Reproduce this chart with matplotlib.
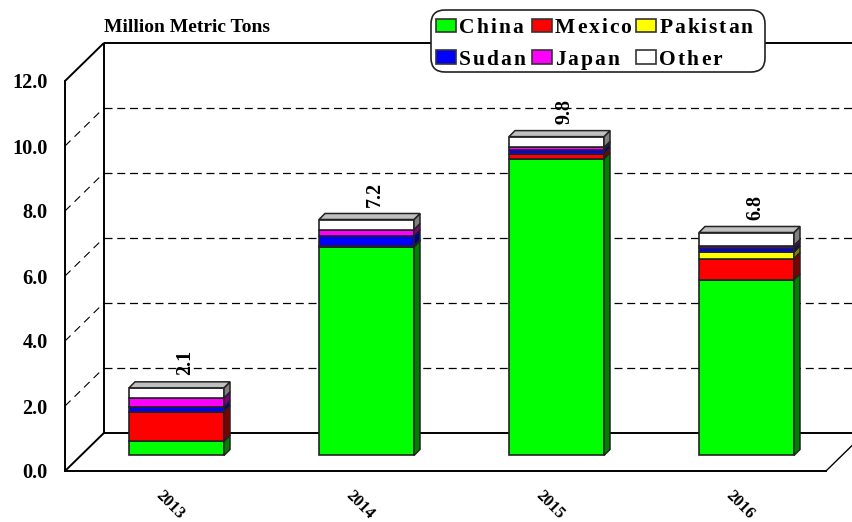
import matplotlib
matplotlib.use('Agg')
import matplotlib.pyplot as plt
from matplotlib.patches import FancyBboxPatch, Patch, Polygon
from matplotlib.text import Text
from matplotlib.transforms import IdentityTransform, ScaledTranslation

plt.rcParams['font.family'] = ['Liberation Serif', 'DejaVu Serif']
plt.rcParams['font.weight'] = 'bold'

# data
years = ['2013', '2014', '2015', '2016']
china = [0.44, 6.42, 9.13, 5.41]
mexico = [0.91, 0.02, 0.15, 0.65]
pakistan = [0.0, 0.01, 0.0, 0.20]
sudan = [0.15, 0.31, 0.13, 0.11]
japan = [0.27, 0.19, 0.07, 0.09]
other = [0.31, 0.31, 0.33, 0.40]
totals = ['2.1', '7.2', '9.8', '6.8']
y_ticks = [0, 2, 4, 6, 8, 10, 12]
y_title = 'Million Metric Tons'

series = [('China', china, '#00ff00', '#008000'),
          ('Mexico', mexico, '#ff0000', '#800000'),
          ('Pakistan', pakistan, '#ffff00', '#808000'),
          ('Sudan', sudan, '#0000ff', '#000080'),
          ('Japan', japan, '#ff00ff', '#800080'),
          ('Other', other, '#ffffff', '#808080')]

W, H = 853, 522
PX_X = 190.0   # pixels per category
PX_Y = 32.4    # pixels per unit


class SpacedText(Text):
    # the legend text in the original has wide letter spacing
    spacing = 1.9

    def draw(self, renderer):
        x, y = self.get_transform().transform(self.get_unitless_position())
        s = self.get_text()
        fp = self.get_fontproperties()
        for i, ch in enumerate(s):
            adv = renderer.get_text_width_height_descent(s[:i], fp, False)[0] if i else 0
            t = Text(x + adv + i * self.spacing, y, ch, fontproperties=fp, color=self.get_color(),
                     ha='left', va='baseline', transform=IdentityTransform())
            t.set_figure(self.get_figure())
            t.draw(renderer)


fig = plt.figure(figsize=(W / 100, H / 100), dpi=100)
ax = fig.add_axes([65 / W, (H - 471) / H, 761 / W, 390 / H])
ax.set_xlim(-111.5 / PX_X, 649.5 / PX_X)
ax.set_ylim(0, 12)
ax.patch.set_visible(False)

# 3d offsets
wall_dx = 39 / PX_X
wall_dy = 38 / PX_Y
bar_dx = 6 / PX_X
bar_dy = 6 / PX_Y
base = 15.5 / PX_Y
bar_w = 95 / PX_X
x0, x1 = ax.get_xlim()

for s in ['top', 'right']:
    ax.spines[s].set_visible(False)
for s in ['left', 'bottom']:
    ax.spines[s].set_linewidth(1.4)
    ax.spines[s].set_zorder(1)

solid = dict(color='black', lw=1.4, clip_on=False, zorder=1, solid_capstyle='butt')
ax.plot([x0 + wall_dx, x0 + wall_dx], [wall_dy, 12 + wall_dy], **solid)
ax.plot([x0 + wall_dx, x1 + wall_dx], [wall_dy, wall_dy], **solid)
ax.plot([x0 + wall_dx, x1 + wall_dx], [12 + wall_dy, 12 + wall_dy], **solid)
ax.plot([x0, x0 + wall_dx], [0, wall_dy], **solid)
ax.plot([x0, x0 + wall_dx], [12, 12 + wall_dy], **solid)
ax.plot([x1, x1 + wall_dx], [0, wall_dy], color='black', lw=1, clip_on=False, zorder=1)

for v in y_ticks[1:-1]:
    ax.plot([x0 + wall_dx, x1 + wall_dx], [v + wall_dy, v + wall_dy], color='black', lw=0.9,
            ls=(0, (6.4, 3.8)), clip_on=False, zorder=1)
    ax.plot([x0, x0 + wall_dx], [v, v + wall_dy], color='black', lw=0.8,
            ls=(0, (7, 5)), clip_on=False, zorder=1)

# stacked bars
xs = list(range(len(years)))
bottoms = [base] * len(years)
for name, vals, col, dark in series:
    ax.bar(xs, vals, bar_w, bottom=bottoms, color=col, edgecolor='#222222', linewidth=1.2,
           clip_on=False, zorder=3)
    for x, v, b in zip(xs, vals, bottoms):
        if v <= 0:
            continue
        r = x + bar_w / 2
        ax.add_patch(Polygon([(r, b), (r + bar_dx, b + bar_dy), (r + bar_dx, b + v + bar_dy), (r, b + v)],
                             facecolor=dark, edgecolor='#222222', lw=1.1, clip_on=False, zorder=3))
    bottoms = [b + v for b, v in zip(bottoms, vals)]

for x, top, lab in zip(xs, bottoms, totals):
    l = x - bar_w / 2
    r = x + bar_w / 2
    ax.add_patch(Polygon([(l, top), (r, top), (r + bar_dx, top + bar_dy), (l + bar_dx, top + bar_dy)],
                         facecolor='#c0c0c0', edgecolor='#222222', lw=1.1, clip_on=False, zorder=3))
    ax.text(x + 8.5 / PX_X, top + 12.5 / PX_Y, lab, rotation=90, ha='center', va='bottom',
            fontsize=14.5, fontweight='bold', zorder=4)

# axes text
ax.set_yticks(y_ticks)
ax.set_yticklabels([f'{v:.1f}' for v in y_ticks], fontsize=14.6, fontweight='bold')
ax.set_xticks(xs)
ax.set_xticklabels(years, rotation=-45, ha='center', va='top', fontsize=12, fontweight='bold')
ax.tick_params(axis='y', length=0, pad=12.5)
ax.tick_params(axis='x', length=0, pad=12)
shift = ScaledTranslation(-6.5 / 100, 0, fig.dpi_scale_trans)
for lab in ax.get_xticklabels():
    lab.set_transform(lab.get_transform() + shift)

fig.text(104 / W, 1 - 27 / H, y_title, fontsize=14, fontweight='bold', ha='left', va='center')

# legend
box = FancyBboxPatch((431 + 14, H - 72 + 14), 334 - 28, 62 - 28, boxstyle='round,pad=14',
                     facecolor='white', edgecolor='#222222', lw=1.2,
                     transform=IdentityTransform(), clip_on=False, zorder=5)
ax.add_patch(box)
order = [0, 3, 1, 4, 2, 5]
handles = [Patch(facecolor=series[i][2], edgecolor='#333333', lw=1.2) for i in order]
labels = [series[i][0] for i in order]
leg = ax.legend(handles, labels, ncol=3, frameon=False, fontsize=15.5,
                loc='upper left', bbox_to_anchor=(436 / W, 1 - 18 / H), bbox_transform=fig.transFigure,
                borderpad=0, borderaxespad=0, handlelength=0.93, handleheight=0.6,
                handletextpad=0.14, columnspacing=0.67, labelspacing=0.55)
leg.set_zorder(6)
for t in leg.get_texts():
    t.__class__ = SpacedText

fig.savefig('out.png', dpi=100)
